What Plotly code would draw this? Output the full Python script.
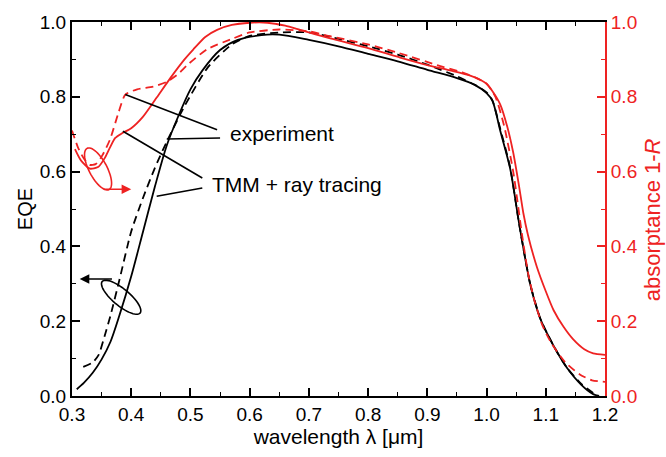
import numpy as np
import plotly.graph_objects as go

# EQE, simulated (TMM + ray tracing)
eqe_sim_wl = [0.308, 0.32, 0.335, 0.35, 0.365, 0.38, 0.40, 0.42, 0.44, 0.46, 0.48, 0.50,
              0.52, 0.55, 0.58, 0.62, 0.65, 0.70, 0.75, 0.80, 0.85, 0.90, 0.95, 0.98,
              1.0, 1.01, 1.023, 1.04, 1.054, 1.065, 1.074, 1.09, 1.102, 1.12, 1.136,
              1.16, 1.18, 1.19]
eqe_sim = [0.018, 0.035, 0.062, 0.098, 0.145, 0.215, 0.32, 0.44, 0.56, 0.67, 0.75, 0.82,
           0.87, 0.925, 0.952, 0.965, 0.966, 0.952, 0.935, 0.915, 0.895, 0.872, 0.85, 0.832,
           0.81, 0.789, 0.71, 0.607, 0.47, 0.37, 0.297, 0.21, 0.168, 0.115, 0.075,
           0.03, 0.005, 0.0]

# EQE, measured
eqe_exp_wl = [0.319, 0.335, 0.345, 0.355, 0.365, 0.38, 0.40, 0.42, 0.44, 0.46, 0.49, 0.53,
              0.57, 0.60, 0.65, 0.70, 0.75, 0.80, 0.85, 0.90, 0.95, 0.98, 1.0, 1.01,
              1.023, 1.04, 1.054, 1.065, 1.074, 1.09, 1.102, 1.12, 1.136, 1.16, 1.18]
eqe_exp = [0.078, 0.09, 0.11, 0.16, 0.215, 0.31, 0.44, 0.53, 0.61, 0.68, 0.775, 0.88,
           0.94, 0.963, 0.972, 0.972, 0.955, 0.935, 0.913, 0.886, 0.855, 0.832, 0.812, 0.79,
           0.715, 0.61, 0.47, 0.37, 0.297, 0.21, 0.168, 0.115, 0.075, 0.032, 0.008]

# absorptance 1-R, simulated
abs_sim_wl = [0.305, 0.315, 0.33, 0.344, 0.356, 0.364, 0.373, 0.385, 0.40, 0.42, 0.443,
              0.466, 0.49, 0.505, 0.525, 0.545, 0.57, 0.60, 0.63, 0.66, 0.685, 0.736, 0.80,
              0.854, 0.90, 0.94, 0.97, 0.99, 1.0, 1.01, 1.023, 1.035, 1.045, 1.055, 1.062,
              1.07, 1.085, 1.10, 1.113, 1.13, 1.146, 1.165, 1.18, 1.2]
abs_sim = [0.66, 0.63, 0.608, 0.612, 0.638, 0.664, 0.69, 0.703, 0.716, 0.747, 0.798,
           0.85, 0.9, 0.927, 0.96, 0.979, 0.992, 0.998, 0.998, 0.99, 0.979, 0.956, 0.93,
           0.905, 0.885, 0.87, 0.858, 0.845, 0.835, 0.815, 0.78, 0.72, 0.651, 0.56, 0.49,
           0.43, 0.345, 0.28, 0.23, 0.185, 0.152, 0.125, 0.114, 0.11]

# absorptance 1-R, measured
abs_exp_wl = [0.30, 0.31, 0.32, 0.33, 0.34, 0.35, 0.364, 0.378, 0.39, 0.41, 0.437, 0.46,
              0.48, 0.494, 0.528, 0.572, 0.60, 0.65, 0.70, 0.736, 0.80, 0.85, 0.922, 0.96,
              0.983, 1.0, 1.015, 1.03, 1.045, 1.06, 1.07, 1.08, 1.094, 1.11, 1.133, 1.158,
              1.178, 1.2]
abs_exp = [0.71, 0.665, 0.635, 0.618, 0.62, 0.64, 0.685, 0.755, 0.806, 0.82, 0.827, 0.84,
           0.862, 0.884, 0.927, 0.956, 0.972, 0.98, 0.975, 0.962, 0.94, 0.918, 0.882, 0.865,
           0.85, 0.835, 0.8, 0.72, 0.6, 0.43, 0.33, 0.26, 0.19, 0.14, 0.09, 0.057,
           0.042, 0.038]

x_ticks = [0.3, 0.4, 0.5, 0.6, 0.7, 0.8, 0.9, 1.0, 1.1, 1.2]
y_ticks = [0.0, 0.2, 0.4, 0.6, 0.8, 1.0]

RED = "#ee2222"
BLACK = "#000000"
FONT = "Liberation Sans, Arial, sans-serif"

W, H = 666, 457
M = dict(l=72, r=61, t=15, b=55)
X0, X1 = 0.3, 1.2
Y0, Y1 = 0.0, 1.0
plot_w = W - M["l"] - M["r"]
plot_h = H - M["t"] - M["b"]
px_per_x = plot_w / (X1 - X0)
px_per_y = plot_h / (Y1 - Y0)

fig = go.Figure()

dash = "8px,5px"
fig.add_trace(go.Scatter(x=abs_sim_wl, y=abs_sim, mode="lines", yaxis="y2",
                         line=dict(color=RED, width=1.8, shape="spline", smoothing=0.6)))
fig.add_trace(go.Scatter(x=abs_exp_wl, y=abs_exp, mode="lines", yaxis="y2",
                         line=dict(color=RED, width=1.8, dash=dash, shape="spline", smoothing=0.6)))
fig.add_trace(go.Scatter(x=eqe_exp_wl, y=eqe_exp, mode="lines",
                         line=dict(color=BLACK, width=1.8, dash=dash, shape="spline", smoothing=0.6)))
fig.add_trace(go.Scatter(x=eqe_sim_wl, y=eqe_sim, mode="lines",
                         line=dict(color=BLACK, width=1.8, shape="spline", smoothing=0.8)))


def ellipse_path(cx, cy, a_px, b_px, angle_deg, n=60):
    """Rotated ellipse given in screen pixels around a data-space centre."""
    t = np.linspace(0, 2 * np.pi, n)
    ang = np.deg2rad(angle_deg)
    dx = a_px * np.cos(t) * np.cos(ang) - b_px * np.sin(t) * np.sin(ang)
    dy = a_px * np.cos(t) * np.sin(ang) + b_px * np.sin(t) * np.cos(ang)
    xs = cx + dx / px_per_x
    ys = cy - dy / px_per_y
    pts = [f"{x:.5f},{y:.5f}" for x, y in zip(xs, ys)]
    return "M" + " L".join(pts) + " Z"


shapes = [
    # ellipse marking the EQE curves
    dict(type="path", xref="x", yref="y", path=ellipse_path(0.383, 0.264, 25, 8.5, 41),
         line=dict(color=BLACK, width=1.6)),
    # ellipse marking the absorptance curves
    dict(type="path", xref="x", yref="y", path=ellipse_path(0.344, 0.607, 24, 9, 63),
         line=dict(color=RED, width=1.6)),
    # leader lines to the "experiment" label
    dict(type="line", xref="x", yref="y", x0=0.39, y0=0.806, x1=0.545, y1=0.712,
         line=dict(color=BLACK, width=1.6)),
    dict(type="line", xref="x", yref="y", x0=0.46, y0=0.687, x1=0.55, y1=0.69,
         line=dict(color=BLACK, width=1.6)),
    # leader lines to the "TMM + ray tracing" label
    dict(type="line", xref="x", yref="y", x0=0.386, y0=0.708, x1=0.52, y1=0.583,
         line=dict(color=BLACK, width=1.6)),
    dict(type="line", xref="x", yref="y", x0=0.443, y0=0.534, x1=0.52, y1=0.556,
         line=dict(color=BLACK, width=1.6)),
]

annotations = [
    dict(x=0.564, y=0.703, xref="x", yref="y", text="experiment", showarrow=False,
         xanchor="left", yanchor="middle", font=dict(size=21, color=BLACK, family=FONT)),
    dict(x=0.533, y=0.566, xref="x", yref="y", text="TMM + ray tracing", showarrow=False,
         xanchor="left", yanchor="middle", font=dict(size=21, color=BLACK, family=FONT)),
    # arrow pointing to the EQE axis
    dict(x=0.313, y=0.313, ax=0.37, ay=0.313, xref="x", yref="y", axref="x", ayref="y",
         text="", showarrow=True, arrowhead=2, arrowsize=1.2, arrowwidth=1.6,
         arrowcolor=BLACK),
    # arrow pointing to the absorptance axis
    dict(x=0.40, y=0.553, ax=0.351, ay=0.553, xref="x", yref="y", axref="x", ayref="y",
         text="", showarrow=True, arrowhead=2, arrowsize=1.2, arrowwidth=1.6,
         arrowcolor=RED),
    # right-hand axis title
    dict(x=1.0 + 47 / plot_w, xref="paper", xanchor="center", y=0.47, yref="paper",
         yanchor="middle", text="absorptance 1-<i>R</i>", textangle=-90, showarrow=False,
         font=dict(size=22, color=RED, family=FONT)),
]

fig.update_layout(
    width=W, height=H, margin=M,
    paper_bgcolor="white", plot_bgcolor="white",
    showlegend=False,
    font=dict(family=FONT, size=19, color=BLACK),
    shapes=shapes, annotations=annotations,
    xaxis=dict(
        range=[X0, X1], tickvals=x_ticks, ticktext=[f"{v:.1f}" for v in x_ticks],
        ticks="inside", ticklen=8, tickwidth=1.6, tickcolor=BLACK,
        minor=dict(ticks="inside", ticklen=4, tickwidth=1.4, dtick=0.05, tick0=0.3,
                   tickcolor=BLACK),
        showline=True, linecolor=BLACK, linewidth=2, mirror="ticks",
        showgrid=False, zeroline=False,
        tickfont=dict(size=19, color=BLACK),
        title=dict(text="wavelength λ [μm]", font=dict(size=21, color=BLACK), standoff=6),
    ),
    yaxis=dict(
        range=[Y0, Y1], tickvals=y_ticks, ticktext=[f"{v:.1f}" for v in y_ticks],
        ticks="inside", ticklen=8, tickwidth=1.6, tickcolor=BLACK,
        minor=dict(ticks="inside", ticklen=4, tickwidth=1.4, dtick=0.1, tick0=0,
                   tickcolor=BLACK),
        showline=True, linecolor=BLACK, linewidth=2,
        showgrid=False, zeroline=False,
        tickfont=dict(size=19, color=BLACK),
        title=dict(text="EQE", font=dict(size=20, color=BLACK), standoff=2),
    ),
    yaxis2=dict(
        range=[Y0, Y1], tickvals=y_ticks, ticktext=[f"{v:.1f}" for v in y_ticks],
        overlaying="y", side="right",
        ticks="inside", ticklen=8, tickwidth=1.6, tickcolor=RED,
        minor=dict(ticks="inside", ticklen=4, tickwidth=1.4, dtick=0.1, tick0=0,
                   tickcolor=RED),
        showline=True, linecolor=RED, linewidth=2,
        showgrid=False, zeroline=False,
        tickfont=dict(size=19, color=RED),
    ),
)

fig.write_html("out.html")
